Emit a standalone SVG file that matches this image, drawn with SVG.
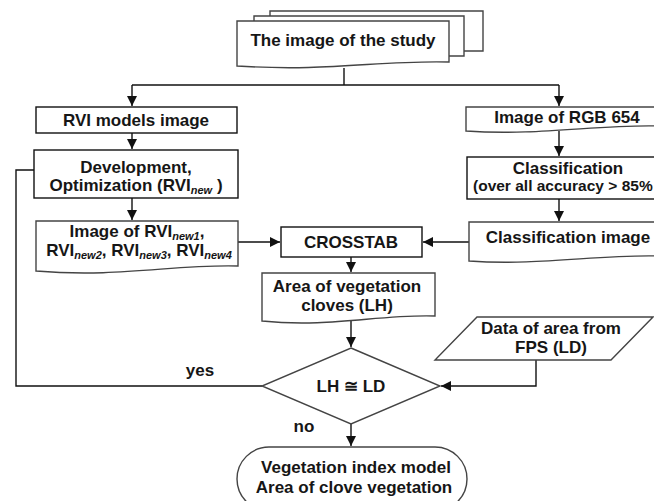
<svg xmlns="http://www.w3.org/2000/svg" width="654" height="501" viewBox="0 0 654 501">
<defs>
<style>
.t{font-family:"Liberation Sans",Arial,sans-serif;font-weight:bold;font-size:17px;fill:#161616;text-anchor:middle}
.s{font-size:11px;font-style:italic}
.box{fill:#fff;stroke:#111;stroke-width:1.4}
.doc{fill:#fff;stroke:#444;stroke-width:1.4}
.c{fill:none;stroke:#111;stroke-width:1.4}
</style>
<marker id="ah" markerUnits="userSpaceOnUse" markerWidth="10" markerHeight="10" viewBox="0 0 10 10" refX="10" refY="5" orient="auto">
<path d="M0,0 L10,5 L0,10 Z" fill="#111"/>
</marker>
</defs>
<rect width="654" height="501" fill="#fff"/>
<g id="connectors">
<path class="c" d="M344,68 V85"/>
<path class="c" d="M132,85 H559"/>
<path class="c" d="M132,85 V106" marker-end="url(#ah)"/>
<path class="c" d="M559,85 V106" marker-end="url(#ah)"/>
<path class="c" d="M132,133 V149" marker-end="url(#ah)"/>
<path class="c" d="M132,198 V220" marker-end="url(#ah)"/>
<path class="c" d="M238,242 H280" marker-end="url(#ah)"/>
<path class="c" d="M559,131 V156" marker-end="url(#ah)"/>
<path class="c" d="M559,199 V221" marker-end="url(#ah)"/>
<path class="c" d="M469,242 H423" marker-end="url(#ah)"/>
<path class="c" d="M351,257 V272" marker-end="url(#ah)"/>
<path class="c" d="M351,321 V347" marker-end="url(#ah)"/>
<path class="c" d="M536,360 V386 H441" marker-end="url(#ah)"/>
<path class="c" d="M262,386 H16 V170 H34"/>
<path class="c" d="M351,424 V446" marker-end="url(#ah)"/>
</g>
<g id="study">
<path class="doc" d="M270,11 H483 V51 H270 Z"/>
<path class="doc" d="M254,16 H464 V56 H254 Z"/>
<path class="doc" d="M237,21 H449 V62 C380,60 330,72 237,66 Z"/>
<text class="t" x="343" y="46">The image of the study</text>
</g>
<g id="rvi-models">
<rect class="box" x="36" y="107" width="201" height="26"/>
<text class="t" x="136" y="126">RVI models image</text>
</g>
<g id="development">
<rect class="box" x="34" y="150" width="204" height="48"/>
<text class="t" x="136" y="173">Development,</text>
<text class="t" x="136" y="191">Optimization (RVI<tspan class="s" dy="3">new</tspan><tspan dy="-3"> )</tspan></text>
</g>
<g id="rvi-images">
<path class="doc" d="M36,221 H238 V266 C175,264 120,278 36,271 Z"/>
<text class="t" x="137" y="237">Image of RVI<tspan class="s" dy="3">new1</tspan><tspan dy="-3">,</tspan></text>
<text class="t" x="139" y="256">RVI<tspan class="s" dy="3">new2</tspan><tspan dy="-3">, RVI</tspan><tspan class="s" dy="3">new3</tspan><tspan dy="-3">, RVI</tspan><tspan class="s" dy="3">new4</tspan></text>
</g>
<g id="rgb">
<path class="doc" d="M466,107 H660 V126 C600,124 540,136 466,131 Z"/>
<text class="t" x="567" y="123">Image of RGB <tspan font-weight="900">654</tspan></text>
</g>
<g id="classification">
<rect class="box" x="467" y="157" width="193" height="42"/>
<text class="t" x="568" y="174">Classification</text>
<text class="t" x="473" y="191" style="font-size:15.5px;text-anchor:start">(over all accuracy &gt; 85%</text>
</g>
<g id="class-image">
<path class="doc" d="M469,222 H660 V256 C600,254 540,266 469,261 Z"/>
<text class="t" x="568" y="243">Classification image</text>
</g>
<g id="crosstab">
<rect class="box" x="281" y="227" width="141" height="30"/>
<text class="t" x="351" y="248">CROSSTAB</text>
</g>
<g id="area-lh">
<path class="doc" d="M262,273 H435 V316 C380,314 330,328 262,321 Z"/>
<text class="t" x="347" y="292">Area of vegetation</text>
<text class="t" x="347" y="311">cloves (LH)</text>
</g>
<g id="data-ld">
<path class="doc" d="M477,317 H653 L611,360 H435 Z"/>
<text class="t" x="551" y="334">Data of area from</text>
<text class="t" x="551" y="353">FPS (LD)</text>
</g>
<g id="decision">
<path class="doc" d="M351,348 L440,386 L351,424 L262,386 Z"/>
<text class="t" x="351" y="392">LH ≅ LD</text>
</g>
<text class="t" x="200" y="376">yes</text>
<text class="t" x="304" y="432">no</text>
<g id="result">
<rect class="doc" x="237" y="447" width="230" height="64" rx="32" ry="32"/>
<text class="t" x="356" y="473">Vegetation index model</text>
<text class="t" x="354" y="493">Area of clove vegetation</text>
</g>
</svg>
